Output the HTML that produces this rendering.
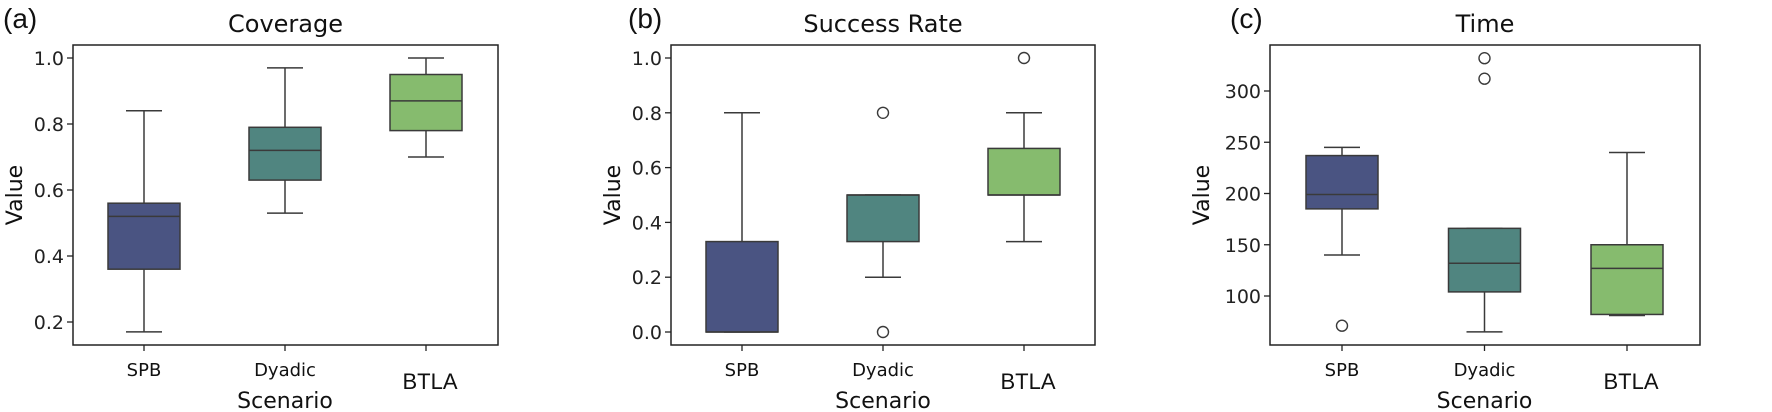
<!DOCTYPE html>
<html><head><meta charset="utf-8"><style>
html,body{margin:0;padding:0;background:#fff}
svg{display:block;font-family:"DejaVu Sans","Liberation Sans",sans-serif}
</style></head><body>
<svg id="chart" width="1772" height="412" viewBox="0 0 1772 412"></svg>
<script>
const categories = ["SPB","Dyadic","BTLA"];
const colors = ["#4a5482","#508580","#86bb6e"];
// Coverage: [whiskerLow, q1, median, q3, whiskerHigh]
const coverageStats = [[0.17,0.36,0.52,0.56,0.84],[0.53,0.63,0.72,0.79,0.97],[0.70,0.78,0.87,0.95,1.00]];
const coverageOutliers = [[],[],[]];
const coverageTicks = [0.2,0.4,0.6,0.8,1.0];
const successStats = [[0,0,0,0.33,0.80],[0.20,0.33,0.50,0.50,0.50],[0.33,0.50,0.50,0.67,0.80]];
const successOutliers = [[],[0.8,0.0],[1.0]];
const successTicks = [0.0,0.2,0.4,0.6,0.8,1.0];
const timeStats = [[140,185,199,237,245],[65,104,132,166,166],[81,82,127,150,240]];
const timeOutliers = [[71],[312,332],[]];
const timeTicks = [100,150,200,250,300];

const NS="http://www.w3.org/2000/svg";
const svg=document.getElementById('chart');
function mk(tag,attrs,parent,text){const e=document.createElementNS(NS,tag);for(const k in attrs)e.setAttribute(k,attrs[k]);if(text!==undefined)e.textContent=text;(parent||svg).appendChild(e);return e;}

function panel(cfg){
  const g=mk('g',{});
  
  
  const y=v=>cfg.y0+(v-cfg.v0)*(cfg.y1-cfg.y0)/(cfg.v1-cfg.v0);
  const x=i=>cfg.cx0+i*cfg.step;
  const L=cfg.left,R=cfg.right,T=45,B=345;
  cfg.ticks.forEach(t=>{
    const ln=mk('line',{x1:L-6,x2:L,y1:y(t),y2:y(t),stroke:'#222','stroke-width':1.3},g);
    
    
    const tx=mk('text',{x:L-9,y:y(t)+7,'text-anchor':'end','font-size':19,fill:'#222'},g,cfg.fmt(t));
    
    
  });
  categories.forEach((c,i)=>{
    const s=cfg.stats[i],cx=x(i),w=72;
    const grp=mk('g',{},g);
    
    
    mk('line',{x1:cx,x2:cx,y1:y(s[0]),y2:y(s[1]),stroke:'#3a3a3a','stroke-width':1.5},grp);
    mk('line',{x1:cx,x2:cx,y1:y(s[3]),y2:y(s[4]),stroke:'#3a3a3a','stroke-width':1.5},grp);
    mk('line',{x1:cx-18,x2:cx+18,y1:y(s[0]),y2:y(s[0]),stroke:'#3a3a3a','stroke-width':1.5},grp);
    mk('line',{x1:cx-18,x2:cx+18,y1:y(s[4]),y2:y(s[4]),stroke:'#3a3a3a','stroke-width':1.5},grp);
    mk('rect',{x:cx-w/2,y:y(s[3]),width:w,height:Math.max(0.5,y(s[1])-y(s[3])),fill:colors[i],stroke:'#3a3a3a','stroke-width':1.5},grp);
    mk('line',{x1:cx-w/2,x2:cx+w/2,y1:y(s[2]),y2:y(s[2]),stroke:'#3a3a3a','stroke-width':1.5},grp);
    cfg.outliers[i].forEach(o=>{
      const ci=mk('circle',{cx:cx,cy:y(o),r:5.5,fill:'none',stroke:'#3a3a3a','stroke-width':1.4},grp);
      
      
    });
    mk('line',{x1:cx,x2:cx,y1:B,y2:B+6,stroke:'#222','stroke-width':1.3},g);
    const big=c==='BTLA';
    const lb=mk('text',{x:cx+(big?4:0),y:big?389:376,'text-anchor':'middle','font-size':big?22:18,'font-family':big?'Liberation Sans, sans-serif':'DejaVu Sans, sans-serif',fill:'#111'},g,c);
    
    
  });
  const fr=mk('rect',{x:L,y:T,width:R-L,height:B-T,fill:'none',stroke:'#222','stroke-width':1.5},g);
  
  
  const ti=mk('text',{x:(L+R)/2,y:32,'text-anchor':'middle','font-size':24,fill:'#111'},g,cfg.title);
  
  
  const pl=mk('text',{x:cfg.labX,y:28,'font-size':28,'font-family':'Liberation Sans, sans-serif',fill:'#111'},g,cfg.label);
  
  
  const xl=mk('text',{x:x(1),y:408,'text-anchor':'middle','font-size':22,fill:'#111'},g,'Scenario');
  
  
  const yl=mk('text',{x:0,y:0,'text-anchor':'middle','font-size':22,fill:'#111',transform:`translate(${cfg.ylabX},${(T+B)/2}) rotate(-90)`},g,'Value');
  
  
}
panel({name:'coverage-panel',title:'Coverage',label:'(a)',labX:3,ylabX:22,left:73,right:498,cx0:144,step:141,v0:1.0,y0:58,v1:0.2,y1:322,ticks:coverageTicks,stats:coverageStats,outliers:coverageOutliers,fmt:t=>t.toFixed(1)});
panel({name:'success-rate-panel',title:'Success Rate',label:'(b)',labX:628,ylabX:620,left:671,right:1095,cx0:742,step:141,v0:1.0,y0:58,v1:0.0,y1:332,ticks:successTicks,stats:successStats,outliers:successOutliers,fmt:t=>t.toFixed(1)});
panel({name:'time-panel',title:'Time',label:'(c)',labX:1230,ylabX:1209,left:1270,right:1700,cx0:1342,step:142.5,v0:300,y0:91,v1:100,y1:296,ticks:timeTicks,stats:timeStats,outliers:timeOutliers,fmt:t=>String(t)});
</script>
</body></html>
